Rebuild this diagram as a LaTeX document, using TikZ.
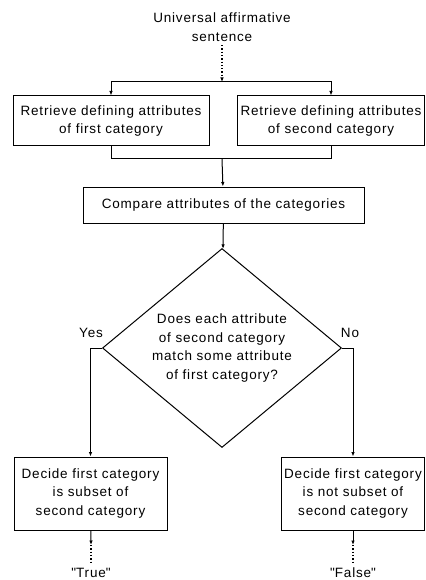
\documentclass[tikz,border=0pt]{standalone}
\usepackage{fontspec}
\setmainfont{Liberation Sans}[LetterSpace=6]
\usetikzlibrary{arrows.meta,positioning,shapes.geometric,calc}

\begin{document}
\begin{tikzpicture}[x=1pt, y=-1pt, line width=1pt,
  stepbox/.style={draw, align=center, inner sep=2pt, font=\fontsize{13.5}{18.5}\selectfont},
  test/.style={draw, shape=diamond, shape aspect=1.2, inner sep=0pt, minimum width=239pt, minimum height=199pt, align=center, font=\fontsize{13.5}{18.5}\selectfont},
  plain/.style={align=center, font=\fontsize{13.5}{18.5}\selectfont},
  arr/.style={-{Latex[length=4.5pt, width=3.5pt]}},
  dots/.style={dotted, line width=1.3pt}
]
  \useasboundingbox (0,0) rectangle (425,580);
  \node[plain] (sentence) at (222,27) {Universal affirmative\\sentence};
  \coordinate (split) at (222,82);
  \node[stepbox, minimum width=196pt, minimum height=50pt] (first) at (111,121)
    {Retrieve defining attributes\\of first category};
  \node[stepbox, minimum width=187pt, minimum height=50pt] (second) at (331,121)
    {Retrieve defining attributes\\of second category};
  \coordinate (join) at (222,159);
  \node[stepbox, minimum width=281pt, minimum height=36pt] (compare) at (223.5,205)
    {Compare attributes of the categories};
  \node[test] (match) at (222,348)
    {Does each attribute\\of second category\\match some attribute\\of first category?};
  \node[plain] (yes) at (91,333) {Yes};
  \node[plain] (no) at (350,333) {No};
  \node[stepbox, minimum width=153pt, minimum height=73pt] (subset) at (90.5,493.5)
    {Decide first category\\is subset of\\second category};
  \node[stepbox, minimum width=143pt, minimum height=73pt] (notsubset) at (353,493.5)
    {Decide first category\\is not subset of\\second category};
  \coordinate (t1) at (91,545);
  \coordinate (f1) at (353,545);
  \node[plain] (true) at (91,573) {\textquotedbl True\textquotedbl};
  \node[plain] (false) at (353,573) {\textquotedbl False\textquotedbl};
  \draw[arr, dots] (sentence) -- (split);
  \draw[arr] (split) -| (first);
  \draw[arr] (split) -| (second);
  \draw (first) |- (join);
  \draw (second) |- (join);
  \draw[arr] (join) -- (compare);
  \draw[arr] (compare) -- (match);
  \draw[arr] (match.west) -| (subset);
  \draw[arr] (match.east) -| (notsubset);
  \draw[arr] (subset) -- (t1);
  \draw[arr] (notsubset) -- (f1);
  \draw[dots] (t1) -- (true);
  \draw[dots] (f1) -- (false);
\end{tikzpicture}
\end{document}
